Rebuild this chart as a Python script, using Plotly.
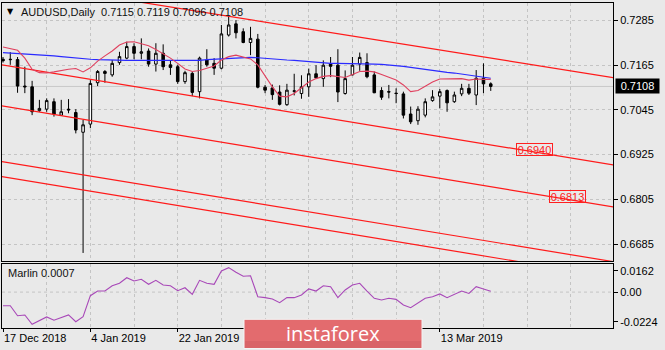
import plotly.graph_objects as go

# ---------------- data ----------------
dates = [
    "2018-12-17", "2018-12-18", "2018-12-19", "2018-12-20", "2018-12-21", "2018-12-24",
    "2018-12-26", "2018-12-27", "2018-12-28", "2018-12-31", "2019-01-02", "2019-01-03",
    "2019-01-04", "2019-01-07", "2019-01-08", "2019-01-09", "2019-01-10", "2019-01-11",
    "2019-01-14", "2019-01-15", "2019-01-16", "2019-01-17", "2019-01-18", "2019-01-21",
    "2019-01-22", "2019-01-23", "2019-01-24", "2019-01-25", "2019-01-28", "2019-01-29",
    "2019-01-30", "2019-01-31", "2019-02-01", "2019-02-04", "2019-02-05", "2019-02-06",
    "2019-02-07", "2019-02-08", "2019-02-11", "2019-02-12", "2019-02-13", "2019-02-14",
    "2019-02-15", "2019-02-18", "2019-02-19", "2019-02-20", "2019-02-21", "2019-02-22",
    "2019-02-25", "2019-02-26", "2019-02-27", "2019-02-28", "2019-03-01", "2019-03-04",
    "2019-03-05", "2019-03-06", "2019-03-07", "2019-03-08", "2019-03-11", "2019-03-12",
    "2019-03-13", "2019-03-14", "2019-03-15", "2019-03-18", "2019-03-19", "2019-03-20",
    "2019-03-21", "2019-03-22",
]

open_ = [0.7181, 0.7181, 0.7180, 0.7109, 0.7107, 0.7043, 0.7047, 0.7067, 0.7031, 0.7047,
         0.7038, 0.6985, 0.7007, 0.7118, 0.7148, 0.7139, 0.7172, 0.7184, 0.7215, 0.7197,
         0.7203, 0.7168, 0.7197, 0.7166, 0.7161, 0.7121, 0.7143, 0.7094, 0.7179, 0.7170,
         0.7157, 0.7246, 0.7276, 0.7255, 0.7226, 0.7235, 0.7106, 0.7104, 0.7093, 0.7059,
         0.7095, 0.7089, 0.7107, 0.7142, 0.7129, 0.7169, 0.7165, 0.7089, 0.7139, 0.7168,
         0.7172, 0.7139, 0.7097, 0.7094, 0.7090, 0.7088, 0.7034, 0.7016, 0.7031, 0.7070,
         0.7082, 0.7097, 0.7067, 0.7088, 0.7103, 0.7085, 0.7130, 0.7115]
high = [0.7187, 0.7200, 0.7187, 0.7161, 0.7123, 0.7072, 0.7076, 0.7076, 0.7072, 0.7074,
        0.7047, 0.7018, 0.7125, 0.7152, 0.7152, 0.7179, 0.7201, 0.7228, 0.7224, 0.7237,
        0.7210, 0.7224, 0.7221, 0.7179, 0.7166, 0.7150, 0.7148, 0.7188, 0.7208, 0.7184,
        0.7273, 0.7297, 0.7286, 0.7264, 0.7268, 0.7249, 0.7112, 0.7113, 0.7111, 0.7115,
        0.7142, 0.7138, 0.7156, 0.7165, 0.7178, 0.7187, 0.7208, 0.7151, 0.7187, 0.7199,
        0.7197, 0.7148, 0.7106, 0.7112, 0.7103, 0.7094, 0.7054, 0.7055, 0.7076, 0.7098,
        0.7101, 0.7100, 0.7094, 0.7115, 0.7115, 0.7152, 0.7170, 0.7119]
low = [0.7172, 0.7166, 0.7091, 0.7090, 0.7031, 0.7040, 0.7040, 0.7027, 0.7029, 0.7036,
       0.6982, 0.6661, 0.6996, 0.7109, 0.7118, 0.7134, 0.7166, 0.7181, 0.7181, 0.7181,
       0.7161, 0.7148, 0.7152, 0.7139, 0.7115, 0.7115, 0.7082, 0.7076, 0.7161, 0.7139,
       0.7154, 0.7242, 0.7237, 0.7224, 0.7192, 0.7103, 0.7090, 0.7072, 0.7057, 0.7056,
       0.7084, 0.7075, 0.7080, 0.7129, 0.7107, 0.7133, 0.7066, 0.7086, 0.7138, 0.7150,
       0.7130, 0.7090, 0.7072, 0.7076, 0.7063, 0.7022, 0.7007, 0.7005, 0.7025, 0.7067,
       0.7049, 0.7040, 0.7064, 0.7082, 0.7085, 0.7058, 0.7090, 0.7096]
close = [0.7177, 0.7180, 0.7109, 0.7107, 0.7040, 0.7049, 0.7070, 0.7034, 0.7040, 0.7045,
         0.6991, 0.7005, 0.7116, 0.7148, 0.7143, 0.7170, 0.7188, 0.7215, 0.7197, 0.7201,
         0.7168, 0.7197, 0.7161, 0.7159, 0.7121, 0.7145, 0.7092, 0.7184, 0.7166, 0.7157,
         0.7249, 0.7273, 0.7252, 0.7226, 0.7237, 0.7106, 0.7098, 0.7086, 0.7060, 0.7098,
         0.7096, 0.7107, 0.7142, 0.7131, 0.7165, 0.7162, 0.7093, 0.7129, 0.7165, 0.7186,
         0.7134, 0.7091, 0.7079, 0.7093, 0.7089, 0.7031, 0.7013, 0.7047, 0.7067, 0.7080,
         0.7094, 0.7064, 0.7085, 0.7103, 0.7090, 0.7130, 0.7115, 0.7108]

# short moving average (red/pink line)
ma_fast = [0.7214, 0.7210, 0.7205, 0.7184, 0.7154, 0.7145, 0.7144, 0.7147, 0.7151, 0.7154,
           0.7156, 0.7147, 0.7158, 0.7176, 0.7190, 0.7203, 0.7219, 0.7227, 0.7228, 0.7223,
           0.7217, 0.7207, 0.7196, 0.7184, 0.7170, 0.7155, 0.7148, 0.7151, 0.7157, 0.7163,
           0.7179, 0.7188, 0.7192, 0.7188, 0.7182, 0.7166, 0.7137, 0.7107, 0.7082, 0.7080,
           0.7089, 0.7104, 0.7120, 0.7129, 0.7135, 0.7137, 0.7135, 0.7132, 0.7140, 0.7148,
           0.7149, 0.7147, 0.7140, 0.7132, 0.7125, 0.7112, 0.7094, 0.7097, 0.7109, 0.7120,
           0.7128, 0.7129, 0.7130, 0.7129, 0.7125, 0.7128, 0.7127, 0.7127]
# long moving average (blue line)
ma_slow = [0.7199, 0.7198, 0.7197, 0.7196, 0.7195, 0.7193, 0.7192, 0.7190, 0.7188, 0.7186,
           0.7184, 0.7183, 0.7181, 0.7180, 0.7179, 0.7178, 0.7178, 0.7178, 0.7178, 0.7178,
           0.7178, 0.7178, 0.7177, 0.7177, 0.7177, 0.7178, 0.7178, 0.7178, 0.7180, 0.7181,
           0.7182, 0.7184, 0.7185, 0.7186, 0.7186, 0.7185, 0.7184, 0.7182, 0.7180, 0.7179,
           0.7178, 0.7176, 0.7175, 0.7174, 0.7172, 0.7170, 0.7170, 0.7170, 0.7170, 0.7170,
           0.7169, 0.7168, 0.7167, 0.7166, 0.7164, 0.7162, 0.7159, 0.7156, 0.7154, 0.7151,
           0.7149, 0.7146, 0.7144, 0.7141, 0.7139, 0.7136, 0.7133, 0.7130]

marlin = [-0.0103, -0.0103, -0.0179, -0.0173, -0.0244, -0.0219, -0.0188, -0.0213, -0.0194, -0.0173,
          -0.0224, -0.0186, -0.0027, 0.0008, 0.0008, 0.0048, 0.0067, 0.0109, 0.0084, 0.0097,
          0.0059, 0.0089, 0.0054, 0.0048, 0.0011, 0.0033, -0.0017, 0.0089, 0.0067, 0.0059,
          0.0160, 0.0185, 0.0150, 0.0120, 0.0124, -0.0035, -0.0042, -0.0052, -0.0080, -0.0042,
          -0.0042, -0.0022, 0.0024, 0.0008, 0.0048, 0.0041, -0.0042, 0.0016, 0.0054, 0.0067,
          0.0008, -0.0047, -0.0060, -0.0047, -0.0055, -0.0098, -0.0118, -0.0085, -0.0047, -0.0035,
          -0.0014, -0.0042, -0.0017, 0.0008, -0.0010, 0.0041, 0.0024, 0.0007]

# date axis labels that are visible (the ones under the watermark are hidden)
label_dates = ["2018-12-17", "2019-01-04", "2019-01-22", "2019-03-13"]
label_text = ["17 Dec 2018", "4 Jan 2019", "22 Jan 2019", "13 Mar 2019"]

price_ticks = [0.7285, 0.7165, 0.7045, 0.6925, 0.6805, 0.6685]
marlin_ticks = [0.0162, 0.0, -0.0224]
marlin_ticktext = ["0.0162", "0.00", "-0.0224"]

# channel lines: prices at two bar indices (left / right of the visible range)
channel_bars = [-1, 85]
channel_a = [0.73962, 0.71279]
channel_b = [0.71687, 0.68935]
channel_c = [0.70587, 0.67806]
channel_d = [0.69091, 0.66339]
channel_e = [0.68689, 0.65920]
channel_levels = [0.6940, 0.6813]   # labelled levels on lines B and C

symbol = "AUDUSD,Daily"
indicator = "Marlin"

# ---------------- layout helpers ----------------
W, H = 665, 350
PL, PR, PT, PB = 2, 613, 3, 328      # plot area in pixels


def px_x(p):
    return (p - PL) / (PR - PL)


def px_y(p):
    return (PB - p) / (PB - PT)


FONT = "Liberation Sans, Arial, sans-serif"
BG = "#e9e9e9"
GRID = "#c4c4c4"
bars = list(range(len(dates)))

fig = go.Figure()

fig.add_trace(go.Candlestick(
    x=bars, open=open_, high=high, low=low, close=close,
    increasing=dict(line=dict(color="black", width=1), fillcolor="white"),
    decreasing=dict(line=dict(color="black", width=1), fillcolor="black"),
    whiskerwidth=0, xaxis="x", yaxis="y", hoverinfo="skip", showlegend=False))

for ch in (channel_a, channel_b, channel_c, channel_d, channel_e):
    fig.add_trace(go.Scatter(x=channel_bars, y=ch, mode="lines",
                             line=dict(color="#ff1a1a", width=1.2),
                             xaxis="x", yaxis="y", hoverinfo="skip", showlegend=False))

fig.add_trace(go.Scatter(x=bars, y=ma_slow, mode="lines", line=dict(color="#2a2aff", width=1.2),
                         xaxis="x", yaxis="y", hoverinfo="skip", showlegend=False))
fig.add_trace(go.Scatter(x=bars, y=ma_fast, mode="lines", line=dict(color="#e0405e", width=1.1),
                         xaxis="x", yaxis="y", hoverinfo="skip", showlegend=False))

fig.add_trace(go.Scatter(x=bars, y=marlin, mode="lines", line=dict(color="#a848b8", width=1.1),
                         xaxis="x2", yaxis="y2", hoverinfo="skip", showlegend=False))

label_idx = [dates.index(d) for d in label_dates]
grid_minor = [i for i in range(0, 84, 6) if i not in label_idx]

xcommon = dict(range=[(PL - 3) / 7.28, (PR - 3) / 7.28], showline=True, mirror=True,
               linecolor="black", linewidth=1, zeroline=False,
               tickmode="array", tickvals=label_idx, ticktext=label_text,
               showgrid=True, gridcolor=GRID, griddash="3px,3px", gridwidth=1,
               minor=dict(tickmode="array", tickvals=grid_minor, showgrid=True,
                          gridcolor=GRID, griddash="3px,3px", gridwidth=1, ticks=""))

fig.update_layout(
    width=W, height=H,
    margin=dict(l=PL, r=W - PR, t=PT, b=H - PB),
    paper_bgcolor=BG, plot_bgcolor=BG,
    boxgap=0.5,
    font=dict(family=FONT, size=11, color="black"),
    xaxis=dict(**xcommon, anchor="y", showticklabels=False, ticks="",
               rangeslider=dict(visible=False)),
    xaxis2=dict(**xcommon, anchor="y2", matches="x", showticklabels=True,
                ticks="outside", ticklen=3, tickcolor="black",
                ticklabelposition="outside right",
                tickfont=dict(family=FONT, size=11, color="black")),
    yaxis=dict(domain=[px_y(261), 1], range=[0.66394, 0.73320], side="right",
               showline=True, mirror=True, linecolor="black", linewidth=1,
               tickmode="array", tickvals=price_ticks, tickformat=".4f",
               ticks="outside", ticklen=4, tickcolor="black", zeroline=False,
               showgrid=True, gridcolor=GRID, griddash="3px,3px",
               tickfont=dict(family=FONT, size=11, color="black")),
    yaxis2=dict(domain=[0, px_y(264)], range=[-0.02717, 0.02127], side="right",
                showline=True, mirror=True, linecolor="black", linewidth=1,
                tickmode="array", tickvals=marlin_ticks, ticktext=marlin_ticktext,
                ticks="outside", ticklen=4, tickcolor="black", zeroline=False,
                showgrid=False, tickfont=dict(family=FONT, size=11, color="black")),
)

shapes = [
    # bid line at the last close
    dict(type="line", xref="x domain", yref="y", x0=0, x1=1, y0=close[-1], y1=close[-1],
         line=dict(color="#c8c8c8", width=1), layer="below"),
    # zero level of the oscillator
    dict(type="line", xref="x2 domain", yref="y2", x0=0, x1=1, y0=0, y1=0,
         line=dict(color=GRID, width=1, dash="3px,3px"), layer="below"),
    # watermark badge
    dict(type="rect", xref="paper", yref="paper", x0=px_x(244), x1=px_x(422),
         y0=px_y(348.5), y1=px_y(319.3), fillcolor="#e36b6e",
         line=dict(color="#f4f4f4", width=1), layer="above"),
    dict(type="rect", xref="paper", yref="paper", x0=px_x(245), x1=px_x(421),
         y0=px_y(348), y1=px_y(341), fillcolor="#d96367",
         line=dict(width=0), layer="above"),
]
fig.update_layout(shapes=shapes)

annotations = [
    dict(xref="paper", yref="paper", x=px_x(10), y=px_y(11.5), text="\u25BC",
         showarrow=False, xanchor="center", yanchor="middle",
         font=dict(family="DejaVu Sans", size=8, color="black")),
    dict(xref="paper", yref="paper", x=px_x(19), y=px_y(12), showarrow=False,
         xanchor="left", yanchor="middle",
         text=f"{symbol}\u00a0\u00a0{open_[-1]:.4f} {high[-1]:.4f} {low[-1]:.4f} {close[-1]:.4f}",
         font=dict(family=FONT, size=11, color="#111111")),
    dict(xref="paper", yref="paper", x=px_x(6), y=px_y(272.5), showarrow=False,
         xanchor="left", yanchor="middle", text=f"{indicator} {marlin[-1]:.4f}",
         font=dict(family=FONT, size=11, color="#111111")),
    dict(xref="paper", yref="y", x=px_x(615), y=close[-1], showarrow=False,
         xanchor="left", yanchor="middle", text=f"{close[-1]:.4f}",
         bgcolor="black", width=41, height=12, borderpad=1,
         font=dict(family=FONT, size=11, color="white")),
    dict(xref="paper", yref="paper", x=px_x(333), y=px_y(333.5), showarrow=False,
         xanchor="center", yanchor="middle", text="instaforex",
         font=dict(family="Open Sans", size=20, color="white")),
]

# level labels sitting on channel lines B and C
for ch, lvl in zip((channel_b, channel_c), channel_levels):
    xb = channel_bars[0] + (ch[0] - lvl) / (ch[0] - ch[1]) * (channel_bars[1] - channel_bars[0])
    annotations.append(dict(xref="x", yref="y", x=xb, y=lvl, showarrow=False,
                            xanchor="left", yanchor="middle", text=f"{lvl:.4f}",
                            bordercolor="#ff2020", borderwidth=1, borderpad=0,
                            width=35, height=11,
                            font=dict(family=FONT, size=11, color="#ff2020")))

fig.update_layout(annotations=annotations)

fig.write_html("out.html")
